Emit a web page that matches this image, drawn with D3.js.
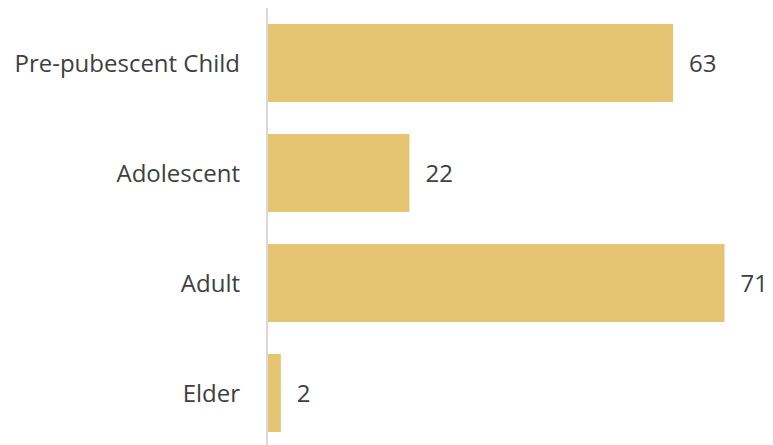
<!DOCTYPE html>
<html><head><meta charset="utf-8">
<script src="https://cdn.jsdelivr.net/npm/d3@7"></script>
<style>html,body{margin:0;padding:0;background:#fff;}svg{display:block;}</style>
</head><body>
<svg id="chart" width="773" height="445"></svg>
<script>
const categories = ["Pre-pubescent Child", "Adolescent", "Adult", "Elder"];
const values = [63, 22, 71, 2];

const svg = d3.select("#chart");
const x0 = 268;
const x = d3.scaleLinear().domain([0, 80]).range([x0, x0 + 6.43 * 80]);
const y = d3.scaleBand().domain(categories).range([8, 448]).paddingInner(32/110).paddingOuter(16/110);

svg.selectAll("rect.bar").data(categories).enter().append("rect")
  .attr("class", "bar")
  .attr("x", x(0))
  .attr("y", d => y(d))
  .attr("width", (d, i) => x(values[i]) - x(0))
  .attr("height", y.bandwidth())
  .attr("fill", "#E5C572");

svg.append("line")
  .attr("x1", x0 - 1).attr("x2", x0 - 1)
  .attr("y1", 8).attr("y2", 448)
  .attr("stroke", "#d9d9d9").attr("stroke-width", 2);

const font = "'Open Sans', sans-serif";
svg.selectAll("text.cat").data(categories).enter().append("text")
  .attr("class", "cat")
  .attr("x", 240)
  .attr("y", d => y(d) + y.bandwidth() / 2)
  .attr("dy", "0.36em")
  .attr("text-anchor", "end")
  .attr("font-family", font).attr("font-size", 24)
  .attr("fill", "#404040")
  .text(d => d);

svg.selectAll("text.val").data(categories).enter().append("text")
  .attr("class", "val")
  .attr("x", (d, i) => x(values[i]) + 16)
  .attr("y", d => y(d) + y.bandwidth() / 2)
  .attr("dy", "0.36em")
  .attr("font-family", font).attr("font-size", 24)
  .attr("fill", "#404040")
  .text((d, i) => values[i]);
</script>
</body></html>
